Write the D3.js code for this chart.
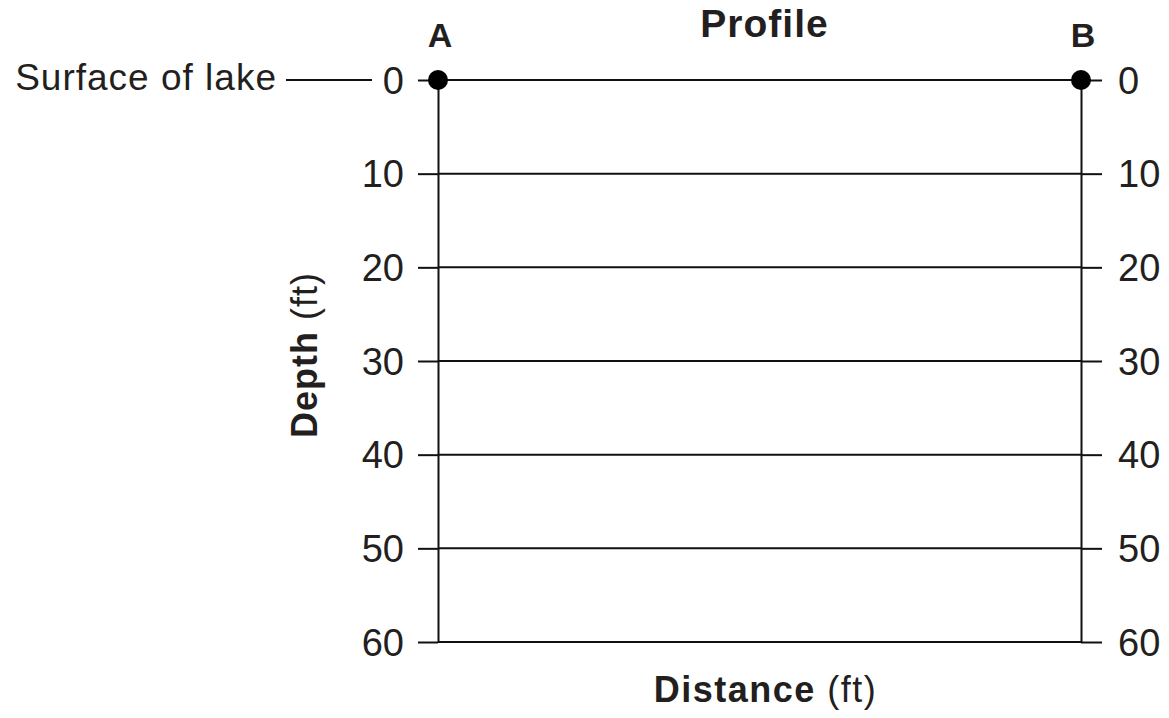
<!DOCTYPE html>
<html lang="en">
<head>
    <meta charset="UTF-8">
    <title>Profile</title>
    <script src="https://d3js.org/d3.v7.min.js"></script>
    <style>
        body { margin: 0; background: #fff; }
        text { font-family: "Liberation Sans", Arial, Helvetica, sans-serif; fill: #231f20; }
    </style>
</head>
<body>
    <div id="profile"></div>
<script>
// depth ticks (ft)
var depthTicks = [0, 10, 20, 30, 40, 50, 60];
// profile end points
var pointLabels = ["A", "B"];
var pointDistance = [0, 1];
var pointDepth = [0, 0];

var W = 1169, H = 718;
var plotLeft = 438, plotRight = 1081, plotTop = 80, plotBottom = 642;

var svg = d3.select("#profile")
    .append("svg")
        .attr("width", W)
        .attr("height", H);

var x = d3.scaleLinear().domain([0, 1]).range([plotLeft, plotRight]);
var y = d3.scaleLinear().domain([0, 60]).range([plotTop, plotBottom]);

var lineColor = "#111";

// horizontal depth lines
svg.selectAll("line.grid")
    .data(depthTicks)
    .enter()
    .append("line")
    .attr("class", "grid")
    .attr("x1", x(0))
    .attr("x2", x(1))
    .attr("y1", function(d) { return y(d); })
    .attr("y2", function(d) { return y(d); })
    .attr("stroke", lineColor)
    .attr("stroke-width", 2);

// left axis
var gl = svg.append("g")
    .attr("transform", "translate(" + x(0) + ",0)")
    .call(d3.axisLeft(y).tickValues(depthTicks).tickSizeInner(20).tickSizeOuter(0).tickPadding(14));

// right axis
var gr = svg.append("g")
    .attr("transform", "translate(" + x(1) + ",0)")
    .call(d3.axisRight(y).tickValues(depthTicks).tickSizeInner(21).tickSizeOuter(0).tickPadding(16));

[gl, gr].forEach(function(g) {
    g.select(".domain").attr("stroke", lineColor).attr("stroke-width", 2);
    g.selectAll(".tick line").attr("stroke", lineColor).attr("stroke-width", 2);
    g.selectAll(".tick text")
        .attr("font-size", 38)
        .attr("fill", "#231f20")
        .attr("dy", "0.35em");
});

// end points
svg.selectAll("circle.pt")
    .data(pointLabels)
    .enter()
    .append("circle")
    .attr("class", "pt")
    .attr("cx", function(d, i) { return x(pointDistance[i]); })
    .attr("cy", function(d, i) { return y(pointDepth[i]); })
    .attr("r", 10)
    .attr("fill", "#000");

svg.selectAll("text.pt")
    .data(pointLabels)
    .enter()
    .append("text")
    .attr("class", "pt")
    .attr("x", function(d, i) { return x(pointDistance[i]) + 2; })
    .attr("y", function(d, i) { return y(pointDepth[i]) - 33; })
    .attr("text-anchor", "middle")
    .attr("font-size", 34)
    .attr("font-weight", "bold")
    .text(function(d) { return d; });

// title
svg.append("text")
    .attr("x", (plotLeft + plotRight) / 2 + 5)
    .attr("y", 37)
    .attr("text-anchor", "middle")
    .attr("font-size", 39)
    .attr("font-weight", "bold")
    .attr("letter-spacing", 1)
    .text("Profile");

// surface of lake label
svg.append("line")
    .attr("x1", 286).attr("x2", 372)
    .attr("y1", y(0)).attr("y2", y(0))
    .attr("stroke", lineColor)
    .attr("stroke-width", 2);

svg.append("text")
    .attr("x", 277)
    .attr("y", y(0) + 10)
    .attr("text-anchor", "end")
    .attr("font-size", 37)
    .attr("letter-spacing", 1)
    .text("Surface of lake");

// x axis title
var xt = svg.append("text")
    .attr("x", (plotLeft + plotRight) / 2 + 6)
    .attr("y", 702)
    .attr("text-anchor", "middle")
    .attr("font-size", 36)
    .attr("letter-spacing", 1.5);
xt.append("tspan").attr("font-weight", "bold").text("Distance");
xt.append("tspan").text(" (ft)");

// y axis title
var yt = svg.append("text")
    .attr("transform", "translate(317," + 355 + ") rotate(-90)")
    .attr("text-anchor", "middle")
    .attr("font-size", 36)
    .attr("letter-spacing", 1);
yt.append("tspan").attr("font-weight", "bold").text("Depth");
yt.append("tspan").text(" (ft)");
</script>
</body>
</html>
